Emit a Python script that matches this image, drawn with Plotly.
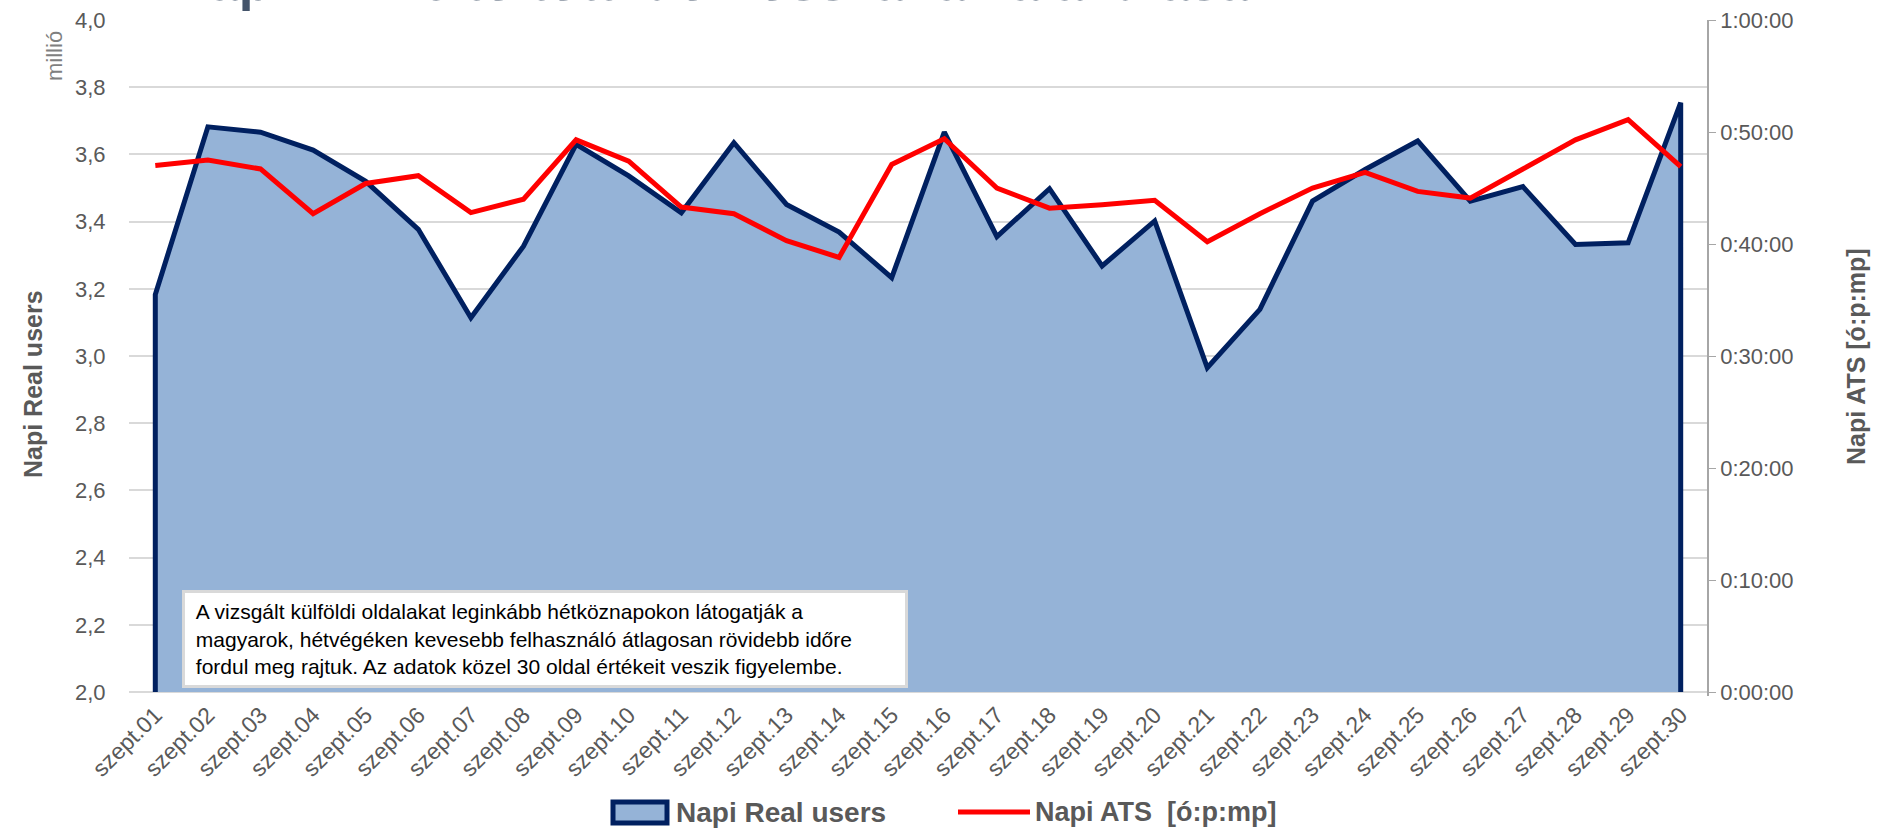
import plotly.graph_objects as go

# ---- data ----
days = [f"szept.{d:02d}" for d in range(1, 31)]
real_users_millio = [3.183, 3.682, 3.666, 3.613, 3.520, 3.377, 3.114, 3.327, 3.630, 3.536,
                     3.426, 3.635, 3.451, 3.369, 3.233, 3.666, 3.355, 3.498, 3.268, 3.402,
                     2.965, 3.139, 3.461, 3.555, 3.640, 3.461, 3.504, 3.332, 3.337, 3.754]
ats_minutes = [47.0, 47.5, 46.7, 42.7, 45.4, 46.1, 42.8, 44.0, 49.3, 47.4,
               43.3, 42.7, 40.3, 38.8, 47.1, 49.4, 45.0, 43.2, 43.5, 43.9,
               40.2, 42.7, 45.0, 46.4, 44.7, 44.1, 46.7, 49.3, 51.1, 46.9]
left_ticks = [2.0, 2.2, 2.4, 2.6, 2.8, 3.0, 3.2, 3.4, 3.6, 3.8, 4.0]
left_ticktext = ["2,0", "2,2", "2,4", "2,6", "2,8", "3,0", "3,2", "3,4", "3,6", "3,8", "4,0"]
right_ticks = [0, 10, 20, 30, 40, 50, 60]
right_ticktext = ["0:00:00", "0:10:00", "0:20:00", "0:30:00", "0:40:00", "0:50:00", "1:00:00"]

series_names = ["Napi Real users", "Napi ATS  [ó:p:mp]"]
note_lines = ["A vizsgált külföldi oldalakat leginkább hétköznapokon látogatják a",
              "magyarok, hétvégéken kevesebb felhasználó átlagosan rövidebb időre",
              "fordul meg rajtuk. Az adatok közel 30 oldal értékeit veszik figyelembe."]
title_left = "Napi"
title_right = "eltöltött idő hosszának alakulása"

YMIN, YMAX = left_ticks[0], left_ticks[-1]
Y2MIN, Y2MAX = right_ticks[0], right_ticks[-1]
GRAY = "#595959"
NAVY = "#002060"
FILL = "#95B3D7"
RED = "#FF0000"
FONT = "Liberation Sans, Arial, sans-serif"

# plot-area geometry (pixels) used for layout placement
W, H = 1878, 829
BASE_Y = 692          # pixel row of the 2,0 / 0:00:00 baseline
PAD = 4               # extra pixels below the baseline so the area outline is not clipped
L, R, T = 129, 171, 20
B = H - BASE_Y - PAD
PW, PH = W - L - R, H - T - B
span_px = BASE_Y - T
y_lo = YMIN - PAD / span_px * (YMAX - YMIN)
y2_lo = Y2MIN - PAD / span_px * (Y2MAX - Y2MIN)


def px(xp):
    return (xp - L) / PW


def py(yp):
    return (H - B - yp) / PH


idx = list(range(len(days)))
poly_x = [idx[0]] + idx + [idx[-1]]
poly_y = [YMIN] + real_users_millio + [YMIN]

fig = go.Figure()
fig.add_trace(go.Scatter(
    x=poly_x, y=poly_y, fill="toself", mode="lines",
    fillcolor=FILL, line=dict(color=NAVY, width=5),
    name=series_names[0], yaxis="y", hoverinfo="skip", showlegend=False))
fig.add_trace(go.Scatter(
    x=idx, y=ats_minutes, mode="lines",
    line=dict(color=RED, width=5),
    name=series_names[1], yaxis="y2", showlegend=False))

fig.update_layout(
    width=W, height=H,
    margin=dict(l=L, r=R, t=T, b=B, autoexpand=False),
    paper_bgcolor="white", plot_bgcolor="white",
    font=dict(family=FONT, color=GRAY, size=21),
    showlegend=False,
    xaxis=dict(range=[-0.5, len(days) - 0.5], tickmode="array", tickvals=idx, ticktext=days,
               tickangle=-45, showgrid=False, zeroline=False, showline=False,
               ticks="", automargin=False, tickfont=dict(size=23, color=GRAY)),
    yaxis=dict(range=[y_lo, YMAX], tickmode="array", tickvals=left_ticks, ticktext=left_ticktext,
               showgrid=True, gridcolor="#D9D9D9", gridwidth=1.5, zeroline=False,
               showline=False, ticks="outside", ticklen=18, tickcolor="rgba(0,0,0,0)",
               automargin=False, tickfont=dict(size=22, color=GRAY)),
    yaxis2=dict(range=[y2_lo, Y2MAX], overlaying="y", side="right", tickmode="array",
                tickvals=right_ticks, ticktext=right_ticktext, showgrid=False,
                zeroline=False, showline=True, linecolor="#A6A6A6", linewidth=1.5,
                ticks="outside", ticklen=7, tickcolor="#A6A6A6", automargin=False,
                tickfont=dict(size=22, color=GRAY)),
)

note_text = "<br>".join("&nbsp;" + ln for ln in note_lines)

annotations = [
    dict(text="<b>Napi Real users</b>", xref="paper", yref="paper", x=px(33), y=py(384),
         xanchor="center", yanchor="middle",
         textangle=-90, showarrow=False, font=dict(size=25, color=GRAY)),
    dict(text="<b>Napi ATS [ó:p:mp]</b>", xref="paper", yref="paper", x=px(1856), y=py(357),
         xanchor="center", yanchor="middle",
         textangle=-90, showarrow=False, font=dict(size=25, color=GRAY)),
    dict(text="millió", xref="paper", yref="paper", x=px(54), y=py(56),
         xanchor="center", yanchor="middle",
         textangle=-90, showarrow=False, font=dict(size=22, color="#7F7F7F")),
    dict(text=note_text, xref="paper", yref="paper", x=px(545), y=py(639),
         xanchor="center", yanchor="middle", align="left", valign="middle", showarrow=False,
         bgcolor="white", bordercolor="#D9D9D9", borderwidth=3, borderpad=5,
         width=710, height=82, font=dict(size=21, color="black")),
    dict(text="<b>" + title_left + "</b>", xref="paper", yref="paper",
         x=px(169), y=py(13), xanchor="left", yanchor="bottom", showarrow=False,
         font=dict(size=53, color="#44546A")),
    dict(text="<b>" + title_right + "</b>", xref="paper", yref="paper",
         x=px(419), y=py(13), xanchor="left", yanchor="bottom", showarrow=False,
         font=dict(size=53, color="#44546A")),
    # legend texts
    dict(text="<b>" + series_names[0] + "</b>", xref="paper", yref="paper",
         x=px(674), y=py(812), xanchor="left", yanchor="middle", showarrow=False,
         font=dict(size=28, color=GRAY)),
    dict(text="<b>" + series_names[1] + "</b>", xref="paper", yref="paper",
         x=px(1033), y=py(812), xanchor="left", yanchor="middle", showarrow=False,
         font=dict(size=27, color=GRAY)),
]

shapes = [
    # legend swatches
    dict(type="rect", xref="paper", yref="paper", x0=px(613), x1=px(667), y0=py(802), y1=py(823),
         fillcolor=FILL, line=dict(color=NAVY, width=5), layer="above"),
    dict(type="line", xref="paper", yref="paper", x0=px(958), x1=px(1030), y0=py(812), y1=py(812),
         line=dict(color=RED, width=5), layer="above"),
]
fig.update_layout(annotations=annotations, shapes=shapes)

fig.write_html("out.html", config={"displayModeBar": False},
               post_script="document.body.style.margin='0';document.body.style.overflow='hidden';")
